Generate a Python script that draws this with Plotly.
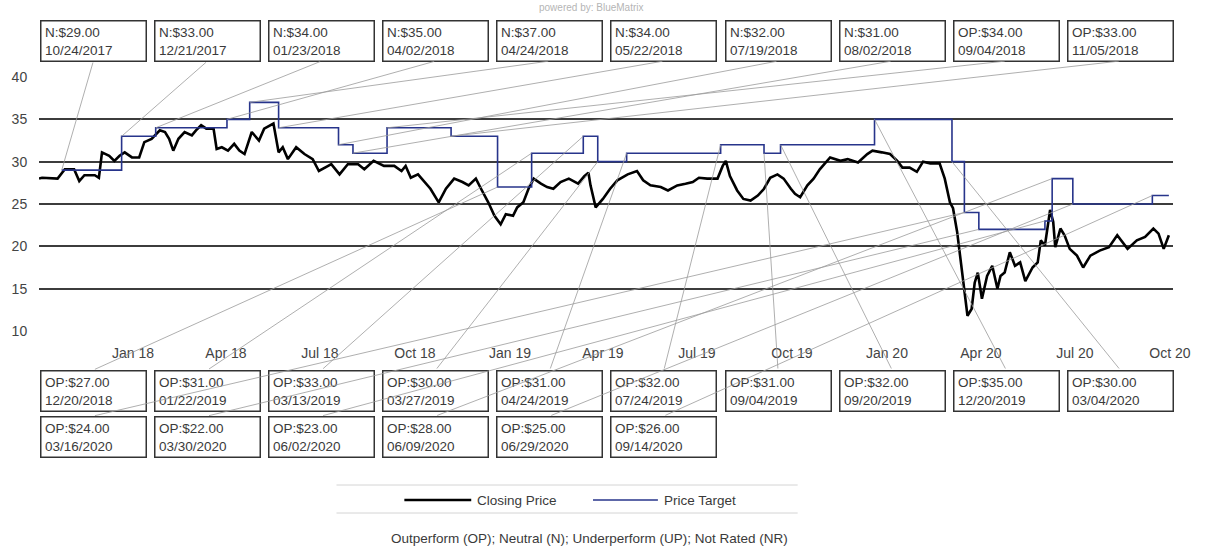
import pandas as pd
import plotly.graph_objects as go

# ---------------- data ----------------
price_dates = [
    "2017-10-02", "2017-10-05", "2017-10-20", "2017-10-27", "2017-11-05", "2017-11-10", "2017-11-15",
    "2017-11-25", "2017-11-29", "2017-12-02", "2017-12-09", "2017-12-14", "2017-12-19", "2017-12-24",
    "2017-12-31", "2018-01-07", "2018-01-12", "2018-01-19", "2018-01-27", "2018-02-01", "2018-02-05",
    "2018-02-09", "2018-02-14", "2018-02-20", "2018-02-27", "2018-03-03", "2018-03-08", "2018-03-13",
    "2018-03-20", "2018-03-23", "2018-03-28", "2018-04-03", "2018-04-09", "2018-04-14", "2018-04-19",
    "2018-04-26", "2018-05-03", "2018-05-08", "2018-05-17", "2018-05-22", "2018-05-26", "2018-05-31",
    "2018-06-08", "2018-06-16", "2018-06-24", "2018-06-30", "2018-07-09", "2018-07-12", "2018-07-20",
    "2018-07-28", "2018-08-07", "2018-08-13", "2018-08-22", "2018-09-01", "2018-09-11", "2018-09-18",
    "2018-09-22", "2018-09-27", "2018-10-04", "2018-10-10", "2018-10-16", "2018-10-24", "2018-10-31",
    "2018-11-08", "2018-11-16", "2018-11-22", "2018-11-29", "2018-12-04", "2018-12-11", "2018-12-17",
    "2018-12-23", "2018-12-28", "2019-01-04", "2019-01-08", "2019-01-14", "2019-01-19", "2019-01-24",
    "2019-01-31", "2019-02-06", "2019-02-12", "2019-02-19", "2019-02-27", "2019-03-08", "2019-03-14",
    "2019-03-18", "2019-03-20", "2019-03-25", "2019-04-01", "2019-04-08", "2019-04-15", "2019-04-25",
    "2019-05-04", "2019-05-10", "2019-05-17", "2019-05-27", "2019-06-03", "2019-06-12", "2019-06-20",
    "2019-06-27", "2019-07-03", "2019-07-11", "2019-07-21", "2019-07-26", "2019-07-29", "2019-08-02",
    "2019-08-09", "2019-08-15", "2019-08-22", "2019-08-29", "2019-09-04", "2019-09-10", "2019-09-17",
    "2019-09-23", "2019-09-30", "2019-10-04", "2019-10-09", "2019-10-16", "2019-10-22", "2019-10-28",
    "2019-11-07", "2019-11-17", "2019-11-24", "2019-12-04", "2019-12-13", "2019-12-18", "2019-12-27",
    "2020-01-04", "2020-01-11", "2020-01-16", "2020-01-23", "2020-01-30", "2020-02-05", "2020-02-12",
    "2020-02-21", "2020-02-26", "2020-03-02", "2020-03-05", "2020-03-09", "2020-03-13", "2020-03-18",
    "2020-03-19", "2020-03-23", "2020-03-26", "2020-03-29", "2020-04-02", "2020-04-07", "2020-04-12",
    "2020-04-17", "2020-04-20", "2020-04-24", "2020-04-29", "2020-05-04", "2020-05-09", "2020-05-14",
    "2020-05-21", "2020-05-26", "2020-05-29", "2020-06-02", "2020-06-07", "2020-06-10", "2020-06-12",
    "2020-06-17", "2020-06-21", "2020-06-26", "2020-07-03", "2020-07-09", "2020-07-16", "2020-07-25",
    "2020-08-03", "2020-08-11", "2020-08-21", "2020-08-30", "2020-09-07", "2020-09-15", "2020-09-20",
    "2020-09-25", "2020-09-30",
]
price_values = [
    28.0, 28.1, 28.0, 29.1, 29.1, 27.7, 28.4,
    28.4, 28.1, 31.1, 30.7, 30.1, 30.7, 31.1,
    30.5, 30.5, 32.3, 32.7, 33.7, 33.5, 32.7,
    31.3, 32.7, 33.5, 33.1, 33.7, 34.3, 33.9,
    33.9, 31.5, 31.7, 31.3, 32.1, 31.3, 30.9,
    33.5, 32.5, 33.9, 34.5, 31.1, 31.7, 30.3,
    31.7, 30.9, 30.3, 28.9, 29.5, 29.7, 28.5,
    29.7, 29.7, 29.1, 30.1, 29.5, 29.5, 28.9,
    29.5, 28.1, 28.5, 27.6, 26.8, 25.2, 26.8,
    28.0, 27.6, 27.2, 28.0, 26.8, 25.2, 23.6,
    22.6, 23.8, 23.6, 24.6, 25.2, 26.8, 28.0,
    27.4, 27.0, 26.8, 27.6, 28.0, 27.4, 28.3,
    28.7, 27.2, 24.6, 25.6, 26.8, 27.8, 28.5,
    28.9, 27.8, 27.2, 27.0, 26.6, 27.2, 27.4,
    27.6, 28.1, 28.0, 28.0, 29.5, 30.1, 28.3,
    26.6, 25.6, 25.4, 26.0, 26.8, 28.1, 28.5,
    28.0, 26.8, 26.2, 25.8, 27.2, 28.0, 29.1,
    30.5, 30.1, 30.3, 29.9, 30.9, 31.3, 31.1,
    30.9, 30.1, 29.3, 29.3, 28.8, 30.0, 29.8,
    29.8, 28.0, 25.2, 24.5, 21.7, 17.7, 12.6,
    11.8, 12.6, 15.7, 16.9, 13.8, 16.5, 17.7,
    15.0, 16.5, 16.9, 19.3, 17.7, 18.1, 15.9,
    17.5, 18.1, 20.7, 20.1, 24.3, 22.9, 19.9,
    22.1, 21.3, 19.7, 18.9, 17.5, 18.9, 19.5,
    19.9, 21.3, 19.7, 20.7, 21.1, 22.1, 21.5,
    19.7, 21.3,
]

target_dates = [
    "2017-10-24", "2017-12-21", "2018-01-23", "2018-04-02", "2018-04-24", "2018-05-22", "2018-07-19",
    "2018-08-02", "2018-09-04", "2018-11-05", "2018-12-20", "2019-01-22", "2019-03-13", "2019-03-27",
    "2019-04-24", "2019-07-24", "2019-09-04", "2019-09-20", "2019-12-20", "2020-03-04", "2020-03-16",
    "2020-03-30", "2020-06-02", "2020-06-09", "2020-06-29", "2020-09-14",
]
target_values = [
    29, 33, 34, 35, 37, 34, 32,
    31, 34, 33, 27, 31, 33, 30,
    31, 32, 31, 32, 35, 30, 24,
    22, 23, 28, 25, 26,
]
target_ratings = [
    "N", "N", "N", "N", "N", "N", "N",
    "N", "OP", "OP", "OP", "OP", "OP", "OP",
    "OP", "OP", "OP", "OP", "OP", "OP", "OP",
    "OP", "OP", "OP", "OP", "OP",
]

tick_dates = ["2018-01-01", "2018-04-01", "2018-07-01", "2018-10-01", "2019-01-01", "2019-04-01",
              "2019-07-01", "2019-10-01", "2020-01-01", "2020-04-01", "2020-07-01", "2020-10-01"]
tick_labels = ["Jan 18", "Apr 18", "Jul 18", "Oct 18", "Jan 19", "Apr 19",
               "Jul 19", "Oct 19", "Jan 20", "Apr 20", "Jul 20", "Oct 20"]
y_ticks = [10, 15, 20, 25, 30, 35, 40]

legend_names = ["Closing Price", "Price Target"]
footer_text = "Outperform (OP); Neutral (N); Underperform (UP); Not Rated (NR)"
powered_text = "powered by: BlueMatrix"

# ---------------- layout constants (reference pixels) ----------------
W, H = 1206, 550
PLOT_LEFT, PLOT_RIGHT, PLOT_TOP, PLOT_BOTTOM = 37, 1173, 77, 331
L, T = PLOT_LEFT, PLOT_TOP
R, B = W - PLOT_RIGHT, H - PLOT_BOTTOM
PW, PH = W - L - R, H - T - B
X_RANGE = [pd.Timestamp("2017-10-02"), pd.Timestamp("2020-10-04")]
Y_RANGE = [10, 40]
FONT = "Liberation Sans, Arial, sans-serif"
BLUE = "#27348b"
TXT = "#3a3a3a"


def px_to_paper_x(px):
    return (px - PLOT_LEFT) / PW


def px_to_paper_y(py):
    return (PLOT_BOTTOM - py) / PH


def px_to_date(px):
    return X_RANGE[0] + (X_RANGE[1] - X_RANGE[0]) * ((px - PLOT_LEFT) / PW)


def px_to_yval(py):
    return Y_RANGE[0] + (Y_RANGE[1] - Y_RANGE[0]) * ((PLOT_BOTTOM - py) / PH)


fig = go.Figure()

fig.add_trace(go.Scatter(
    x=pd.to_datetime(price_dates), y=price_values, mode="lines",
    name=legend_names[0], line=dict(color="#000000", width=2.6),
    showlegend=False,
))

step_x = list(pd.to_datetime(target_dates)) + [pd.to_datetime(price_dates[-1])]
step_y = list(target_values) + [target_values[-1]]
fig.add_trace(go.Scatter(
    x=step_x, y=step_y, mode="lines", line_shape="hv",
    name=legend_names[1], line=dict(color=BLUE, width=1.6),
    showlegend=False,
))

annotations = []
BOX_X0, BOX_PITCH, BOX_W = 38, 114.3, 107
ROWS = [(20, 61), (370, 411), (416, 457)]  # (top, bottom) in reference px

for i, (d, v, r) in enumerate(zip(target_dates, target_values, target_ratings)):
    if i < 10:
        row, col = 0, i
    elif i < 20:
        row, col = 1, i - 10
    else:
        row, col = 2, i - 20
    top, bot = ROWS[row]
    left = BOX_X0 + col * BOX_PITCH
    cx = left + BOX_W / 2
    ds = pd.Timestamp(d)
    label = f"{r}:${v:.2f}<br>{ds.strftime('%m/%d/%Y')}"
    annotations.append(dict(
        xref="paper", yref="paper", x=px_to_paper_x(left), y=px_to_paper_y(top),
        xanchor="left", yanchor="top", align="left", valign="top",
        text=label, showarrow=False, width=BOX_W - 10, height=bot - top - 9,
        bordercolor="#333333", borderwidth=1.5, borderpad=3.5, bgcolor="rgba(255,255,255,0)",
        font=dict(family=FONT, size=13.5, color=TXT),
    ))
    anchor_py = bot if row == 0 else top
    annotations.append(dict(
        xref="x", yref="y", x=ds, y=v,
        axref="x", ayref="y", ax=px_to_date(cx), ay=px_to_yval(anchor_py),
        text="", showarrow=True, arrowhead=0, arrowwidth=0.8, arrowcolor="#9a9a9a",
        standoff=0, startstandoff=0,
    ))

# legend (drawn)
shapes = []
for py in (485, 513):
    shapes.append(dict(type="line", xref="paper", yref="paper",
                       x0=px_to_paper_x(335), x1=px_to_paper_x(797),
                       y0=px_to_paper_y(py), y1=px_to_paper_y(py),
                       line=dict(color="#d4d4d4", width=1)))
legend_items = [(403, 470, "#000000", 2.6, legend_names[0]), (592, 657, BLUE, 1.6, legend_names[1])]
for x0, x1, c, w, name in legend_items:
    shapes.append(dict(type="line", xref="paper", yref="paper",
                       x0=px_to_paper_x(x0), x1=px_to_paper_x(x1),
                       y0=px_to_paper_y(500), y1=px_to_paper_y(500),
                       line=dict(color=c, width=w)))
    annotations.append(dict(xref="paper", yref="paper", x=px_to_paper_x(x1 + 4), y=px_to_paper_y(500),
                            xanchor="left", yanchor="middle", text=name, showarrow=False,
                            font=dict(family=FONT, size=13.5, color=TXT)))

annotations.append(dict(xref="paper", yref="paper", x=px_to_paper_x(588), y=px_to_paper_y(538),
                        xanchor="center", yanchor="middle", text=footer_text, showarrow=False,
                        font=dict(family=FONT, size=13.5, color=TXT)))
annotations.append(dict(xref="paper", yref="paper", x=px_to_paper_x(590), y=px_to_paper_y(7),
                        xanchor="center", yanchor="middle", text=powered_text, showarrow=False,
                        font=dict(family=FONT, size=10, color="#b5b5b5")))

fig.update_layout(
    width=W, height=H,
    margin=dict(l=L, r=R, t=T, b=B, pad=0),
    paper_bgcolor="white", plot_bgcolor="white",
    font=dict(family=FONT, color=TXT),
    showlegend=False,
    annotations=annotations,
    shapes=shapes,
)
fig.update_xaxes(
    range=X_RANGE, showgrid=False, zeroline=False, showline=False,
    tickmode="array", tickvals=pd.to_datetime(tick_dates), ticktext=tick_labels,
    ticks="outside", ticklen=9, tickcolor="rgba(0,0,0,0)",
    tickfont=dict(family=FONT, size=14, color="#444444"),
)
fig.update_yaxes(
    range=Y_RANGE, tickvals=y_ticks, showgrid=True, gridcolor="#3c3c3c", gridwidth=1.8,
    zeroline=False, showline=False,
    ticks="outside", ticklen=8, tickcolor="rgba(0,0,0,0)",
    tickfont=dict(family=FONT, size=14, color="#444444"),
)

# remove the default 8px page margin so the 1206x550 figure fills the window exactly
fig.write_html(
    "out.html",
    config={"displayModeBar": False},
    post_script="document.body.style.margin='0';document.body.style.overflow='hidden';",
)
